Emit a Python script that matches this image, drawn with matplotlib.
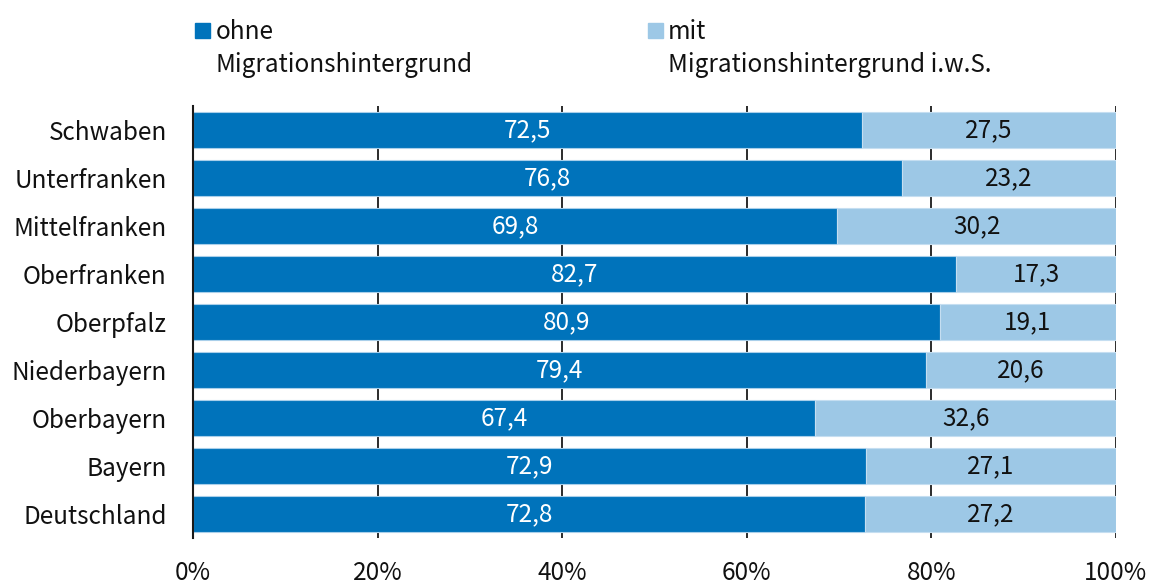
import numpy as np
import matplotlib.pyplot as plt
from matplotlib.patches import Rectangle

plt.rcParams['font.family'] = ['Noto Sans CJK JP', 'DejaVu Sans']

# Data
regions = ['Deutschland', 'Bayern', 'Oberbayern', 'Niederbayern', 'Oberpfalz',
           'Oberfranken', 'Mittelfranken', 'Unterfranken', 'Schwaben']
ohne = [72.8, 72.9, 67.4, 79.4, 80.9, 82.7, 69.8, 76.8, 72.5]
mit = [27.2, 27.1, 32.6, 20.6, 19.1, 17.3, 30.2, 23.2, 27.5]
xticks = [0, 20, 40, 60, 80, 100]

dark = '#0073bb'
light = '#9dc8e6'
fs = 17.5

fig = plt.figure(figsize=(11.51, 5.85), dpi=100)
ax = fig.add_axes([193/1151, 1 - 538/585, (1116 - 193)/1151, 432/585])

y = np.arange(len(regions))
b1 = ax.barh(y, ohne, height=0.77, color=dark, edgecolor='#a9cfea', linewidth=0.8, zorder=2)
b2 = ax.barh(y, mit, left=ohne, height=0.77, color=light, edgecolor='#c5def1', linewidth=0.8, zorder=2)

ax.bar_label(b1, labels=[f'{v:.1f}'.replace('.', ',') for v in ohne], label_type='center',
             color='white', fontsize=fs)
ax.bar_label(b2, labels=[f'{v:.1f}'.replace('.', ',') for v in mit], label_type='center',
             color='#111111', fontsize=fs)

ax.set_xlim(0, 100)
ax.set_ylim(-0.5, len(regions) - 0.5)
ax.set_yticks(y)
ax.set_yticklabels(regions, fontsize=fs, color='#111111')
ax.set_xticks(xticks)
ax.set_xticklabels([f'{t}%' for t in xticks], fontsize=fs, color='#111111')
ax.tick_params(axis='y', length=0, pad=19)
ax.tick_params(axis='x', length=0, pad=16)
ax.grid(axis='x', color='#1a1a1a', linewidth=1.3, zorder=0)
for s in ['top', 'right', 'bottom']:
    ax.spines[s].set_visible(False)
ax.spines['left'].set_color('#1a1a1a')
ax.spines['left'].set_linewidth(1.5)
ax.spines['left'].set_zorder(3)

# Legend
fig.patches.append(Rectangle((195/1151, 1 - 38/585), 15/1151, 15/585,
                             transform=fig.transFigure, color=dark))
fig.text(216/1151, 1 - 19/585, 'ohne\nMigrationshintergrund', fontsize=fs,
         va='top', ha='left', linespacing=1.33, color='#111111',
         transform=fig.transFigure)
fig.patches.append(Rectangle((648/1151, 1 - 38/585), 15/1151, 15/585,
                             transform=fig.transFigure, color=light))
fig.text(668/1151, 1 - 19/585, 'mit\nMigrationshintergrund i.w.S.', fontsize=fs,
         va='top', ha='left', linespacing=1.33, color='#111111',
         transform=fig.transFigure)

fig.savefig('out.png', dpi=100)
